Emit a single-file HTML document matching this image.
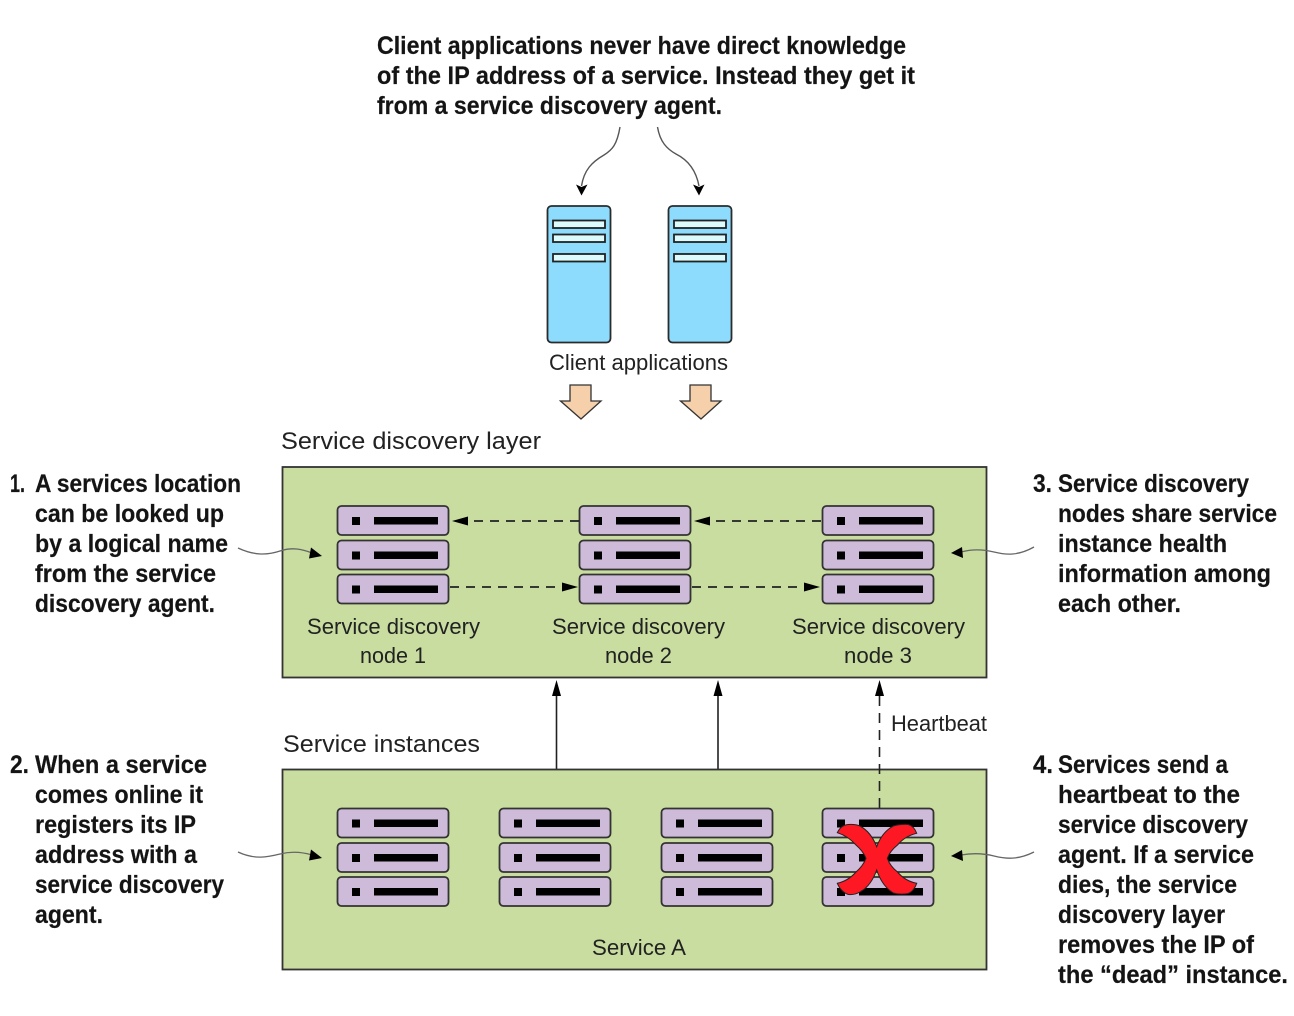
<!DOCTYPE html>
<html>
<head>
<meta charset="utf-8">
<style>
html,body{margin:0;padding:0;background:#fff;}
svg{display:block;filter:blur(0.35px);}
.b{font-family:"Liberation Sans",sans-serif;font-weight:bold;font-size:25px;fill:#141414;stroke:#141414;stroke-width:.2px;}
.r{font-family:"Liberation Sans",sans-serif;font-size:22px;fill:#222;}
.h{font-size:24px;}
</style>
</head>
<body>
<svg width="1294" height="1016" viewBox="0 0 1294 1016" xmlns="http://www.w3.org/2000/svg">
<defs>
<g id="unit">
<rect x="0.5" y="0" width="111" height="29" rx="4" fill="#cdbbd9" stroke="#333" stroke-width="1.8"/>
<rect x="15" y="11" width="8" height="8" fill="#000"/>
<rect x="37" y="11" width="64" height="7.5" fill="#000"/>
</g>
<g id="rackT"><use href="#unit" y="0"/><use href="#unit" y="34.5"/><use href="#unit" y="68.5"/></g>
<g id="server">
<rect x="0" y="0" width="63" height="136.500" rx="4" fill="#8ddcfe" stroke="#2b2b2b" stroke-width="1.800"/>
<rect x="5.500" y="14.500" width="52" height="7.500" fill="#dcfbfd" stroke="#222" stroke-width="1.800"/>
<rect x="5.500" y="28.500" width="52" height="7.500" fill="#dcfbfd" stroke="#222" stroke-width="1.800"/>
<rect x="5.500" y="48" width="52" height="7.500" fill="#dcfbfd" stroke="#222" stroke-width="1.800"/>
</g>
</defs>

<!-- heading -->
<text class="b" x="377" y="54" textLength="529" lengthAdjust="spacingAndGlyphs">Client applications never have direct knowledge</text>
<text class="b" x="377" y="84" textLength="538" lengthAdjust="spacingAndGlyphs">of the IP address of a service. Instead they get it</text>
<text class="b" x="377" y="114" textLength="345" lengthAdjust="spacingAndGlyphs">from a service discovery agent.</text>

<!-- top curved arrows -->
<path d="M620 127 C617 145 612 150 604 155 C592 162 584 170 581.500 186" fill="none" stroke="#555" stroke-width="1.400"/>
<path d="M576 184.500 L581.500 187 L587.500 184.500 L581.500 195.500 Z" fill="#000"/>
<path d="M657.500 127 C660 142 667 149 676 154 C688 160 696 170 699 186" fill="none" stroke="#555" stroke-width="1.400"/>
<path d="M693 184.500 L699 187 L704.500 184.500 L699 195.500 Z" fill="#000"/>

<!-- servers -->
<use href="#server" x="547.500" y="206"/>
<use href="#server" x="668.500" y="206"/>
<text class="r" x="549" y="370" textLength="179" lengthAdjust="spacingAndGlyphs">Client applications</text>

<!-- down arrows -->
<path d="M570 385 H591 V401 H601 L581 419 L560.500 401 H570 Z" fill="#f5d0ab" stroke="#333" stroke-width="1.300"/>
<path d="M690 385 H711 V401 H721 L701 419 L680.500 401 H690 Z" fill="#f5d0ab" stroke="#333" stroke-width="1.300"/>

<text class="r h" x="281" y="449" textLength="260" lengthAdjust="spacingAndGlyphs">Service discovery layer</text>

<!-- discovery layer -->
<rect x="282.500" y="467" width="704" height="210.500" fill="#c8dd9f" stroke="#333" stroke-width="1.800"/>
<use href="#rackT" x="337" y="506"/>
<use href="#rackT" x="579" y="506"/>
<use href="#rackT" x="822" y="506"/>

<!-- dashed between nodes -->
<g stroke="#222" stroke-width="1.700" stroke-dasharray="9 7" fill="none">
<path d="M579 521 H467"/>
<path d="M821 521 H709"/>
<path d="M450 587 H566"/>
<path d="M692 587 H808"/>
</g>
<g fill="#000">
<path d="M452 521 L468 516.500 V525.500 Z"/>
<path d="M694 521 L710 516.500 V525.500 Z"/>
<path d="M578 587 L562 582.500 V591.500 Z"/>
<path d="M820 587 L804 582.500 V591.500 Z"/>
</g>

<text class="r" x="307" y="634" textLength="173" lengthAdjust="spacingAndGlyphs">Service discovery</text>
<text class="r" x="360" y="663" textLength="66" lengthAdjust="spacingAndGlyphs">node 1</text>
<text class="r" x="552" y="634" textLength="173" lengthAdjust="spacingAndGlyphs">Service discovery</text>
<text class="r" x="605" y="663" textLength="67" lengthAdjust="spacingAndGlyphs">node 2</text>
<text class="r" x="792" y="634" textLength="173" lengthAdjust="spacingAndGlyphs">Service discovery</text>
<text class="r" x="844" y="663" textLength="68" lengthAdjust="spacingAndGlyphs">node 3</text>

<!-- vertical arrows -->
<path d="M556.500 769 V694" stroke="#222" stroke-width="1.600" fill="none"/>
<path d="M718 769 V694" stroke="#222" stroke-width="1.600" fill="none"/>
<path d="M556.500 680 L561 696 H552 Z" fill="#000"/>
<path d="M718 680 L722.500 696 H713.500 Z" fill="#000"/>
<path d="M879.500 680 L884 696 H875 Z" fill="#000"/>
<text class="r" x="891" y="731" textLength="96" lengthAdjust="spacingAndGlyphs">Heartbeat</text>
<text class="r h" x="283" y="752" textLength="197" lengthAdjust="spacingAndGlyphs">Service instances</text>

<!-- instances -->
<rect x="282.500" y="769.500" width="704" height="200" fill="#c8dd9f" stroke="#333" stroke-width="1.800"/>
<path d="M879.500 808 V696" stroke="#222" stroke-width="1.600" stroke-dasharray="10 7" fill="none"/>
<use href="#rackT" x="337" y="808.500"/>
<use href="#rackT" x="499" y="808.500"/>
<use href="#rackT" x="661" y="808.500"/>
<use href="#rackT" x="822" y="808.500"/>
<text class="r" x="592" y="955" textLength="94" lengthAdjust="spacingAndGlyphs">Service A</text>

<!-- red X -->
<path d="M837.300 832.700 Q841 825 848.300 824.500 Q855 824 860 826 Q871 832 876.700 846.700 Q882 832 893.300 826 Q900 824 908.300 824.500 Q914 826 916.700 833.300 Q905 836 897.500 845 Q890 851 887.300 858.300 Q890 866 897.500 872 Q905 881 916.700 883.300 Q914 891 908.300 893.500 Q900 895 893.300 893 Q882 886 876.700 870 Q871 886 860 892 Q855 895 848.300 894.500 Q841 892 837.300 883.300 Q848 881 856 872 Q863 866 866 858.300 Q863 851 856 845 Q848 836 837.300 832.700 Z" fill="#fd1823" stroke="#222" stroke-width="1"/>

<!-- callout curves -->
<g fill="none" stroke="#666" stroke-width="1.300">
<path d="M238 548 C255 556 268 555 280 551 C292 547 302 549 312 553"/>
<path d="M238 852 C255 860 268 857 280 854 C292 851 302 852 312 855"/>
<path d="M1034 547 C1018 556 1006 555 994 552 C982 549 972 549 961 552"/>
<path d="M1034 852 C1018 860 1006 859 994 856 C982 853 972 853 961 855"/>
</g>
<g fill="#000">
<path d="M322 556 L311 547.500 L309 558.500 Z"/>
<path d="M322 858 L311 849.500 L309 860.500 Z"/>
<path d="M951 553 L962 547 L963 558 Z"/>
<path d="M951 856 L962 850 L963 861 Z"/>
</g>

<!-- left text -->
<text class="b" x="10" y="492" textLength="15" lengthAdjust="spacingAndGlyphs">1.</text>
<text class="b" x="35" y="492" textLength="206" lengthAdjust="spacingAndGlyphs">A services location</text>
<text class="b" x="35" y="522" textLength="189" lengthAdjust="spacingAndGlyphs">can be looked up</text>
<text class="b" x="35" y="552" textLength="193" lengthAdjust="spacingAndGlyphs">by a logical name</text>
<text class="b" x="35" y="582" textLength="181" lengthAdjust="spacingAndGlyphs">from the service</text>
<text class="b" x="35" y="612" textLength="180" lengthAdjust="spacingAndGlyphs">discovery agent.</text>

<text class="b" x="10" y="773" textLength="19" lengthAdjust="spacingAndGlyphs">2.</text>
<text class="b" x="35" y="773" textLength="172" lengthAdjust="spacingAndGlyphs">When a service</text>
<text class="b" x="35" y="803" textLength="168" lengthAdjust="spacingAndGlyphs">comes online it</text>
<text class="b" x="35" y="833" textLength="161" lengthAdjust="spacingAndGlyphs">registers its IP</text>
<text class="b" x="35" y="863" textLength="162" lengthAdjust="spacingAndGlyphs">address with a</text>
<text class="b" x="35" y="893" textLength="189" lengthAdjust="spacingAndGlyphs">service discovery</text>
<text class="b" x="35" y="923" textLength="68" lengthAdjust="spacingAndGlyphs">agent.</text>

<!-- right text -->
<text class="b" x="1033" y="492" textLength="19" lengthAdjust="spacingAndGlyphs">3.</text>
<text class="b" x="1058" y="492" textLength="191" lengthAdjust="spacingAndGlyphs">Service discovery</text>
<text class="b" x="1058" y="522" textLength="219" lengthAdjust="spacingAndGlyphs">nodes share service</text>
<text class="b" x="1058" y="552" textLength="169" lengthAdjust="spacingAndGlyphs">instance health</text>
<text class="b" x="1058" y="582" textLength="213" lengthAdjust="spacingAndGlyphs">information among</text>
<text class="b" x="1058" y="612" textLength="123" lengthAdjust="spacingAndGlyphs">each other.</text>

<text class="b" x="1033" y="773" textLength="20" lengthAdjust="spacingAndGlyphs">4.</text>
<text class="b" x="1058" y="773" textLength="170" lengthAdjust="spacingAndGlyphs">Services send a</text>
<text class="b" x="1058" y="803" textLength="182" lengthAdjust="spacingAndGlyphs">heartbeat to the</text>
<text class="b" x="1058" y="833" textLength="190" lengthAdjust="spacingAndGlyphs">service discovery</text>
<text class="b" x="1058" y="863" textLength="196" lengthAdjust="spacingAndGlyphs">agent. If a service</text>
<text class="b" x="1058" y="893" textLength="179" lengthAdjust="spacingAndGlyphs">dies, the service</text>
<text class="b" x="1058" y="923" textLength="167" lengthAdjust="spacingAndGlyphs">discovery layer</text>
<text class="b" x="1058" y="953" textLength="196" lengthAdjust="spacingAndGlyphs">removes the IP of</text>
<text class="b" x="1058" y="983" textLength="230" lengthAdjust="spacingAndGlyphs">the “dead” instance.</text>
</svg>
</body>
</html>
